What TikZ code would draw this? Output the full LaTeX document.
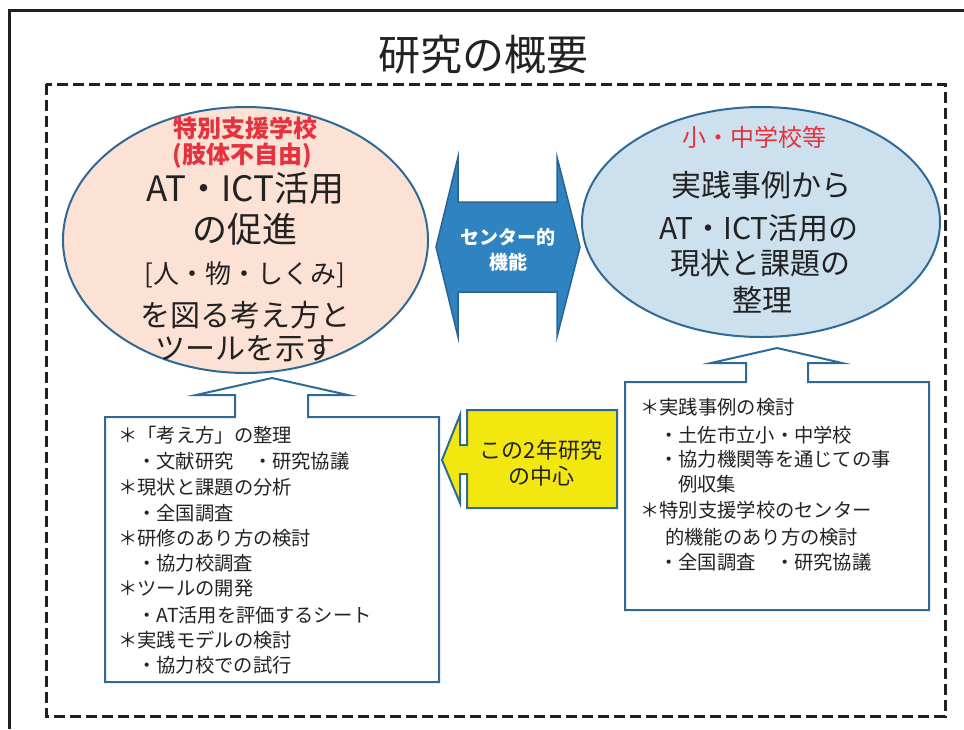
\documentclass[tikz,border=0pt]{standalone}
\usepackage{fontspec}
\setmainfont{Noto Sans CJK JP}
\usetikzlibrary{shapes.geometric}
\definecolor{bordblue}{HTML}{2F6A97}
\definecolor{peach}{HTML}{FCE1D5}
\definecolor{paleblue}{HTML}{CDE0EE}
\definecolor{midblue}{HTML}{2E83C0}
\definecolor{darkblue}{HTML}{2A6592}
\definecolor{yel}{HTML}{F2E70F}
\definecolor{redtxt}{HTML}{E5323E}
\definecolor{ink}{HTML}{222222}
\definecolor{frame}{HTML}{231F20}
\tikzset{
  bluestroke/.style={draw=bordblue, line width=2pt, line join=miter},
  ellline/.style={inner sep=0pt, text=ink, font=\fontsize{30}{36}\selectfont},
  bigline/.style={inner sep=0pt, text=ink, font=\fontsize{35}{40}\selectfont},
  redline/.style={inner sep=0pt, text=redtxt, font=\bfseries\fontsize{24}{28}\selectfont},
  boxline/.style={anchor=west, inner sep=0pt, text=ink, font=\fontsize{19.3}{23}\selectfont},
  dashrect/.style={draw=frame, line width=3pt, dash pattern=on 11pt off 5pt},
}
\begin{document}
\begin{tikzpicture}[x=1pt,y=-1pt]
\useasboundingbox (0,0) rectangle (964,729);
% outer frame
\draw[draw=frame, line width=3pt] (9,729) -- (9,10) -- (964,10);
% title
\node[inner sep=0pt, text=ink, font=\fontsize{42}{48}\selectfont] (title) at (483,55) {研究の概要};
% dashed frame
\draw[dashrect] (46,84) rectangle (945,716);

% left ellipse
\node[ellipse, bluestroke, fill=peach, minimum width=365pt, minimum height=266pt, inner sep=0pt] (LE) at (245.5,240) {};
\node[redline] (LR1) at (245,128) {特別支援学校};
\node[redline] (LR2) at (242,156) {(肢体不自由)};
\node[bigline] (LT1) at (245,188) {AT・ICT活用};
\node[bigline] (LT2) at (245,229) {の促進};
\node[inner sep=0pt, text=ink, font=\fontsize{26}{32}\selectfont] (LT3) at (245,275) {[人・物・しくみ]};
\node[ellline] (LT4) at (245,315) {を図る考え方と};
\node[ellline] (LT5) at (245,349) {ツールを示す};

% right ellipse
\node[ellipse, bluestroke, fill=paleblue, minimum width=358pt, minimum height=230pt, inner sep=0pt] (RE) at (761,222) {};
\node[inner sep=0pt, text=redtxt, font=\fontsize{24}{28}\selectfont] (RR1) at (754,137) {小・中学校等};
\node[ellline] (RT1) at (761,185) {実践事例から};
\node[ellline] (RT2) at (759,228) {AT・ICT活用の};
\node[ellline] (RT3) at (760,263) {現状と課題の};
\node[ellline] (RT4) at (762,300) {整理};

% center double arrow
\draw[fill=midblue, draw=darkblue, line width=1.5pt, line join=miter]
  (436,247) -- (458,157) -- (458,202) -- (557,202) -- (557,157) -- (580,247)
  -- (557,337) -- (557,292) -- (458,292) -- (458,337) -- cycle;
\node[inner sep=0pt, text=white, font=\bfseries\fontsize{19}{23}\selectfont] (CA1) at (508,237) {センター的};
\node[inner sep=0pt, text=white, font=\bfseries\fontsize{19}{23}\selectfont] (CA2) at (508,262) {機能};

% left box with up arrow
\draw[bluestroke, fill=white]
  (105,417) -- (235,417) -- (235,395) -- (196,395) -- (272,378) -- (348,395)
  -- (308,395) -- (308,417) -- (439,417) -- (439,682) -- (105,682) -- cycle;
\foreach \x/\y/\t in {
  118/435/＊「考え方」の整理,
  137/461/・文献研究　・研究協議,
  118/487/＊現状と課題の分析,
  137/513/・全国調査,
  118/538/＊研修のあり方の検討,
  137/563/・協力校調査,
  118/588/＊ツールの開発,
  137/615/・AT活用を評価するシート,
  118/640/＊実践モデルの検討,
  137/665/・協力校での試行}
  \node[boxline] (LB\y) at (\x,\y) {\t};

% right box with up arrow
\draw[bluestroke, fill=white]
  (625,382) -- (746,382) -- (746,363) -- (711,363) -- (777,348) -- (842,363)
  -- (808,363) -- (808,382) -- (929,382) -- (929,610) -- (625,610) -- cycle;
\foreach \x/\y/\t in {
  640/407/＊実践事例の検討,
  659/435/・土佐市立小・中学校,
  659/459/・協力機関等を通じての事,
  678/484/例収集,
  640/510/＊特別支援学校のセンター,
  665/537/的機能のあり方の検討,
  659/562/・全国調査　・研究協議}
  \node[boxline] (RB\y) at (\x,\y) {\t};

% yellow arrow
\draw[fill=yel, bluestroke]
  (467,410) -- (617,410) -- (617,508) -- (467,508) -- (467,474) -- (460,474)
  -- (460,503) -- (442,460) -- (460,415) -- (460,445) -- (467,445) -- cycle;
\node[inner sep=0pt, text=ink, font=\fontsize{22}{26}\selectfont] (Y1) at (541,450) {この2年研究};
\node[inner sep=0pt, text=ink, font=\fontsize{22}{26}\selectfont] (Y2) at (541,476) {の中心};
\end{tikzpicture}
\end{document}
